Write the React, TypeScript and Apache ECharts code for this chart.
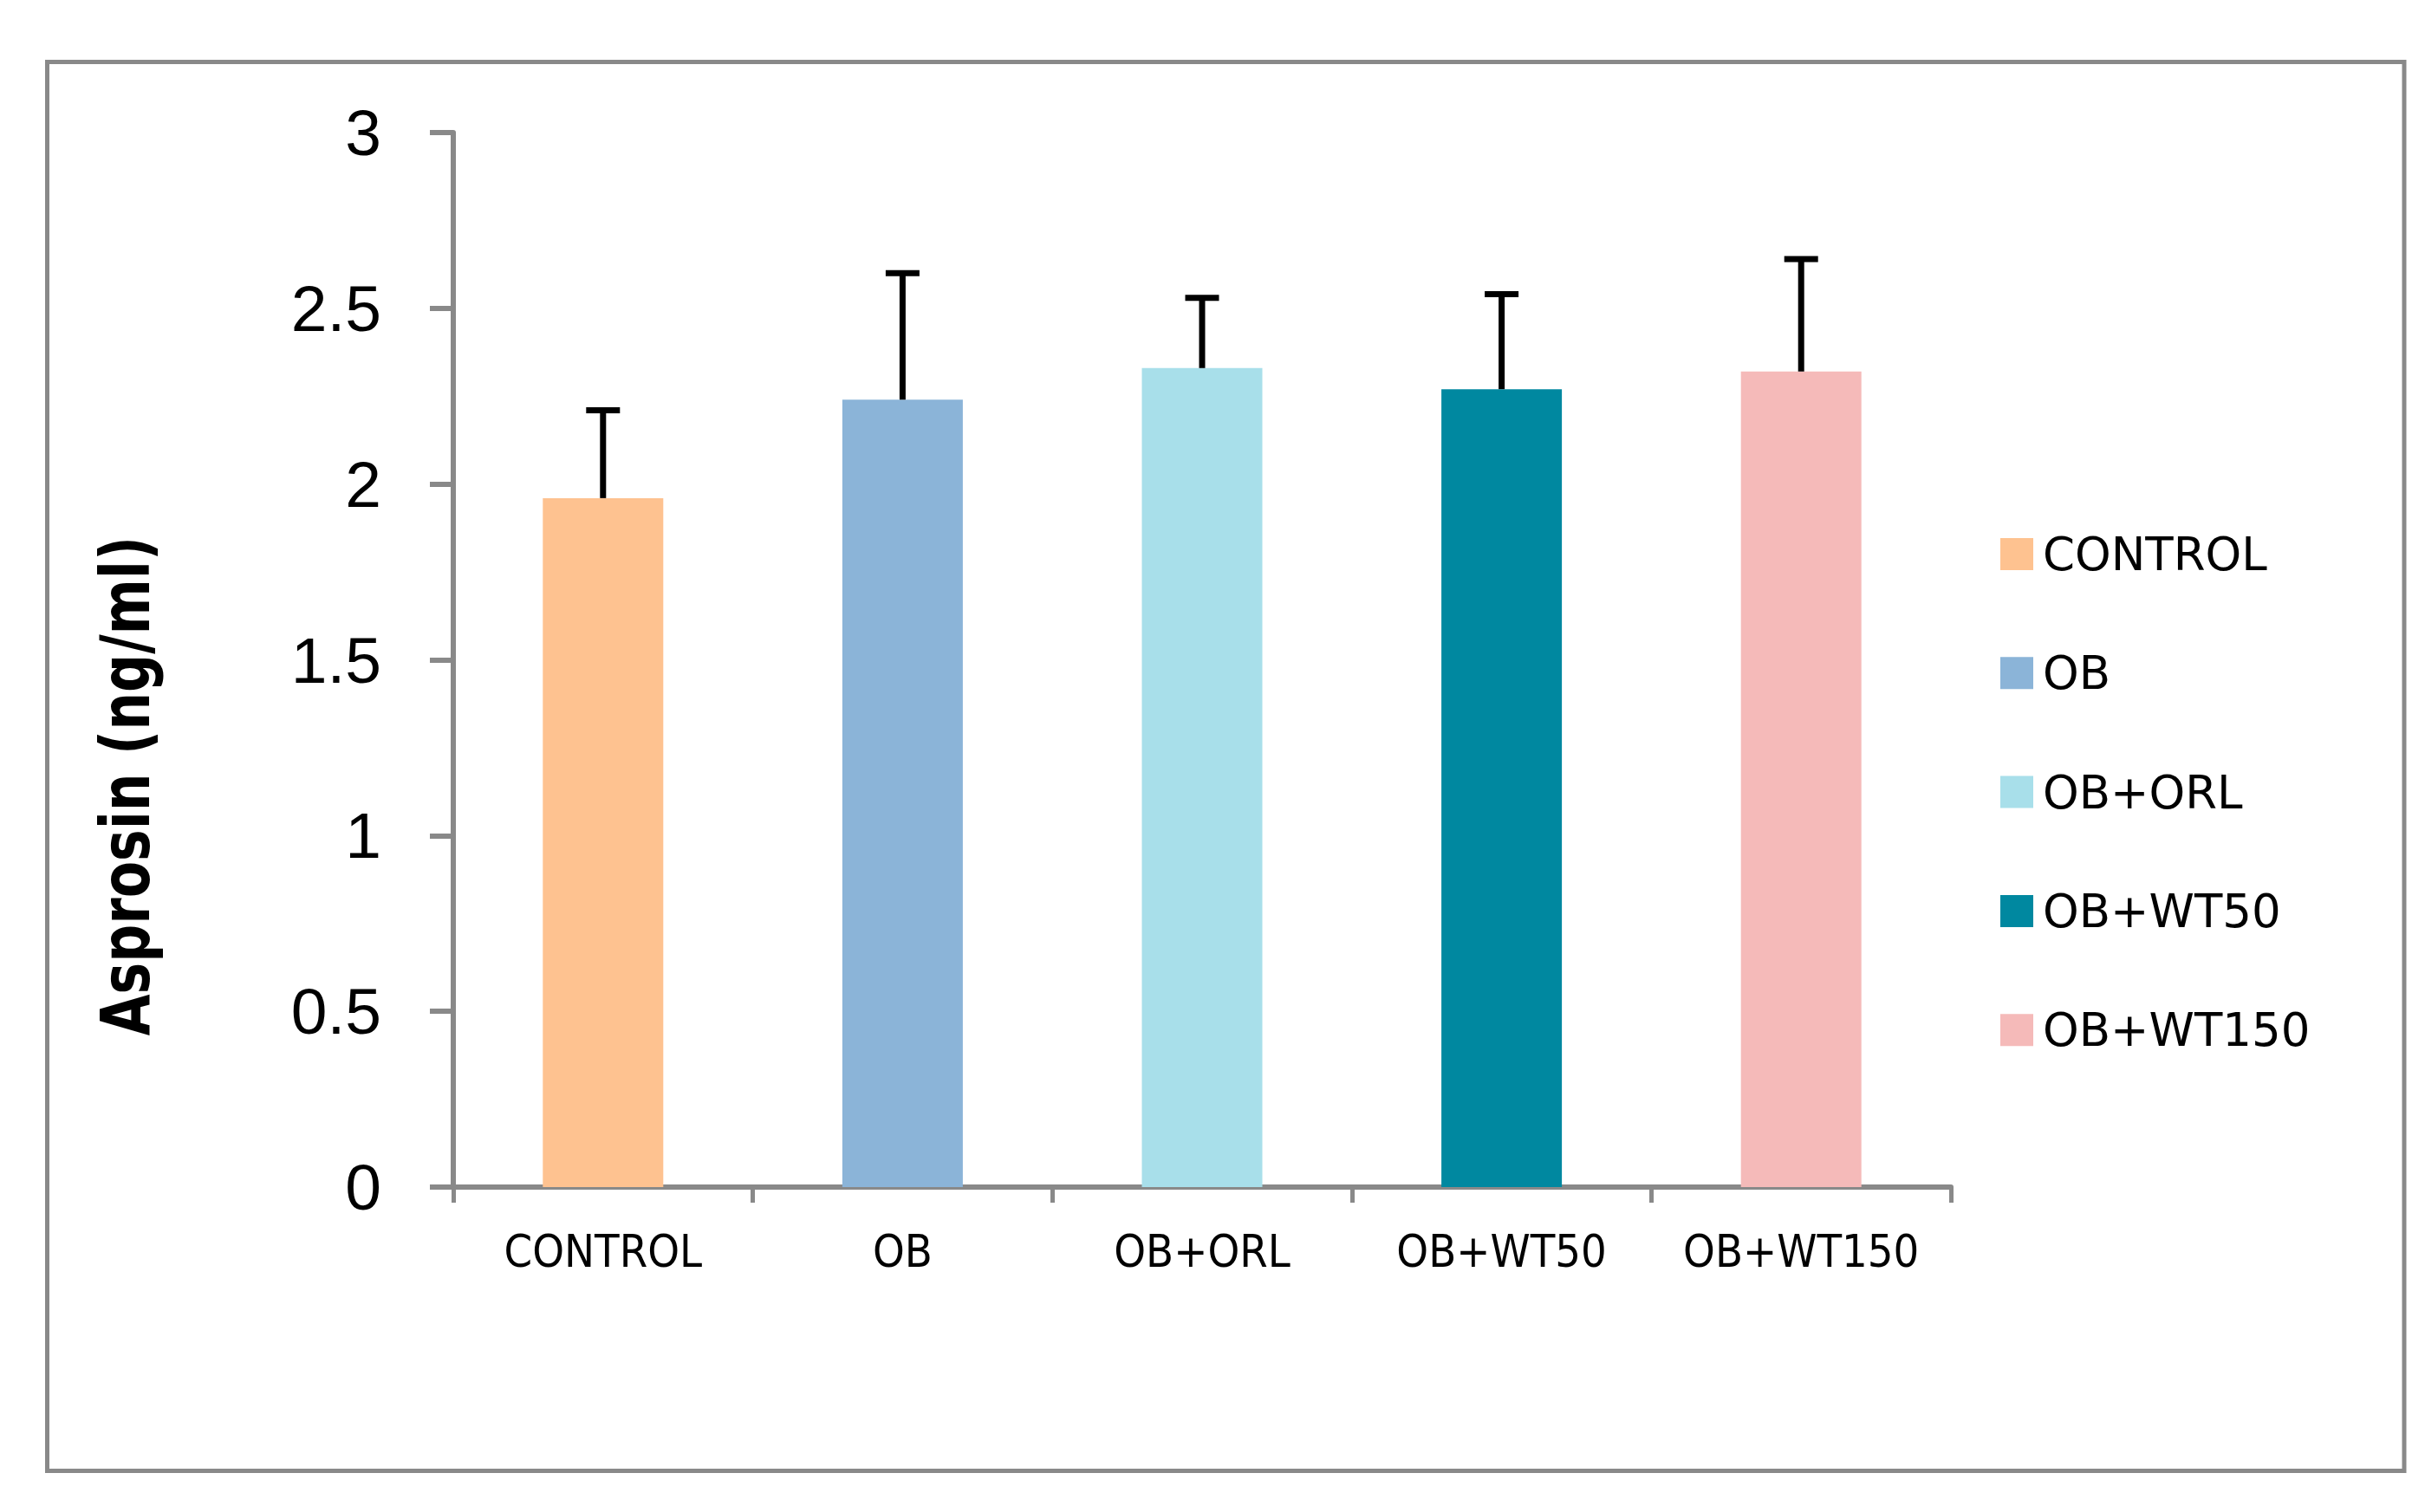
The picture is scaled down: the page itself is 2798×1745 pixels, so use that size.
import React, { useEffect, useRef } from "react";
import * as echarts from "echarts";

const categories = ["CONTROL", "OB", "OB+ORL", "OB+WT50", "OB+WT150"];
const means = [1.96, 2.24, 2.33, 2.27, 2.32];
const upperValues = [2.21, 2.6, 2.53, 2.54, 2.64];
const barColors = ["#FEC290", "#8BB4D8", "#A8DFEA", "#0088A0", "#F5BAB9"];
const yMin = 0;
const yMax = 3;
const yInterval = 0.5;
const yTitle = "Asprosin (ng/ml)";

export default function App() {
  const ref = useRef<HTMLDivElement>(null);

  useEffect(() => {
    if (!ref.current) return;
    const chart = echarts.init(ref.current, undefined, { renderer: "svg" });
    const gray = "#898989";

    const barSeries = categories.map((name, i) => ({
      type: "bar",
      name,
      stack: "all",
      barWidth: 139,
      data: categories.map((_, j) => (j === i ? means[i] : "-")),
      itemStyle: { color: barColors[i] },
      z: 2,
    }));

    const errSeries = {
      type: "custom",
      name: "err",
      z: 5,
      encode: { x: 0, y: [1, 2] },
      data: categories.map((_, i) => [i, means[i], upperValues[i]]),
      renderItem: (params: any, api: any) => {
        const base = api.coord([api.value(0), api.value(1)]);
        const top = api.coord([api.value(0), api.value(2)]);
        return {
          type: "group",
          children: [
            {
              type: "line",
              shape: { x1: base[0], y1: base[1], x2: base[0], y2: top[1] },
              style: { stroke: "#000", lineWidth: 7 },
            },
            {
              type: "line",
              shape: { x1: base[0] - 19.5, y1: top[1], x2: base[0] + 19.5, y2: top[1] },
              style: { stroke: "#000", lineWidth: 7 },
            },
          ],
        };
      },
    };

    chart.setOption({
      animation: false,
      backgroundColor: "#fff",
      grid: { left: 523, top: 153, width: 1728, height: 1217 },
      legend: {
        data: categories,
        orient: "vertical",
        left: 2303,
        top: 608,
        itemWidth: 38,
        itemHeight: 37,
        itemGap: 84.3,
        icon: "rect",
        itemStyle: { borderWidth: 0 },
        textStyle: {
          fontFamily: "DejaVu Sans",
          fontSize: 53,
          color: "#000",
          lineHeight: 37,
          padding: [0, 0, 0, 6],
        },
      },
      xAxis: {
        type: "category",
        data: categories,
        axisLine: { show: true, lineStyle: { color: gray, width: 6 } },
        axisTick: { show: true, interval: 0, length: 18, lineStyle: { color: gray, width: 5 } },
        axisLabel: {
          interval: 0,
          color: "#000",
          fontSize: 52,
          fontFamily: "'Liberation Sans Narrow', 'DejaVu Sans Condensed', sans-serif",
          margin: 48,
          lineHeight: 52,
        },
        splitLine: { show: false },
      },
      yAxis: {
        type: "value",
        min: yMin,
        max: yMax,
        interval: yInterval,
        axisLine: { show: true, lineStyle: { color: gray, width: 6 } },
        axisTick: { show: true, length: 27, lineStyle: { color: gray, width: 6 } },
        axisLabel: {
          color: "#000",
          fontSize: 75,
          fontFamily: "'Liberation Sans', sans-serif",
          margin: 83,
        },
        splitLine: { show: false },
      },
      graphic: [
        {
          type: "rect",
          z: -1,
          shape: { x: 54.5, y: 71.5, width: 2719.5, height: 1626 },
          style: { fill: "none", stroke: gray, lineWidth: 5 },
        },
        {
          type: "text",
          x: 145,
          y: 907,
          rotation: Math.PI / 2,
          scaleX: 0.79,
          style: {
            text: yTitle,
            fontFamily: "DejaVu Sans",
            fontWeight: "bold",
            fontSize: 78,
            fill: "#000",
            align: "center",
            verticalAlign: "middle",
          },
        },
      ],
      series: [...barSeries, errSeries],
    });

    return () => chart.dispose();
  }, []);

  return (
    <div
      ref={ref}
      style={{ position: "fixed", left: 0, top: 0, width: 2798, height: 1745 }}
    />
  );
}
